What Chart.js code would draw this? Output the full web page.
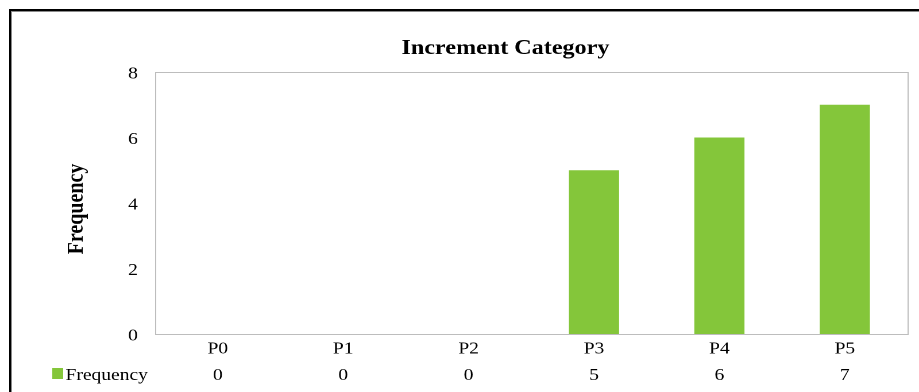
<!DOCTYPE html>
<html>
<head>
<meta charset="utf-8">
<script src="https://cdn.jsdelivr.net/npm/chart.js@4/dist/chart.umd.min.js"></script>
<style>
  html, body { margin: 0; padding: 0; background: #fff; overflow: hidden; }
  body { width: 919px; height: 392px; position: relative; }
  #frame {
    position: absolute; left: 9px; top: 9px; width: 1000px; height: 500px;
    border: 2px solid #000; box-shadow: inset 1px 1px 0 #8a8a8a;
    pointer-events: none; z-index: 2;
  }
  #stage {
    position: absolute; left: 0; top: 0; width: 800px; height: 392px;
    transform: scaleX(1.14875); transform-origin: 0 0;
  }
</style>
</head>
<body>
<div id="frame"></div>
<div id="stage"><canvas id="chart" width="800" height="392"></canvas></div>
<script>
// Frequency of each increment category
const categories = ['P0', 'P1', 'P2', 'P3', 'P4', 'P5'];
const frequency = [0, 0, 0, 5, 6, 7];
const seriesName = 'Frequency';
const chartTitle = 'Increment Category';
const yMin = 0, yMax = 8, yStep = 2;

const SERIF = "'Liberation Serif', 'Times New Roman', serif";
const BAR_GREEN = '#84C63A';

// Titles, plot frame and the data table under the category axis
const tablePlugin = {
  id: 'tablePlugin',
  beforeDatasetsDraw(chart) {
    const { ctx, chartArea: a } = chart;
    ctx.save();
    ctx.strokeStyle = '#bdbdbd';
    ctx.lineWidth = 1;
    ctx.strokeRect(Math.round(a.left) + 0.5, Math.round(a.top) + 0.5,
                   Math.round(a.right - a.left), Math.round(a.bottom - a.top));
    ctx.restore();
  },
  afterDraw(chart) {
    const { ctx, chartArea: a } = chart;
    const xs = chart.scales.x;
    ctx.save();
    ctx.fillStyle = '#000';
    ctx.font = 'bold 21px ' + SERIF;
    ctx.textAlign = 'center';
    ctx.textBaseline = 'alphabetic';
    ctx.fillText(chartTitle, 440, 54);

    // vertical axis title
    ctx.save();
    ctx.translate(67, (a.top + a.bottom) / 2 + 6);
    ctx.rotate(-Math.PI / 2);
    ctx.font = 'bold 20px ' + SERIF;
    ctx.textBaseline = 'middle';
    ctx.fillText(seriesName, 0, 0);
    ctx.restore();

    ctx.font = '17px ' + SERIF;
    const rowY = 380;
    frequency.forEach((v, i) => {
      ctx.fillText(String(v), xs.getPixelForValue(i), rowY);
    });
    ctx.fillStyle = BAR_GREEN;
    ctx.fillRect(45.5, 368, 9.5, 11);
    ctx.fillStyle = '#000';
    ctx.textAlign = 'left';
    ctx.fillText(seriesName, 57, rowY);
    ctx.restore();
  }
};

new Chart(document.getElementById('chart'), {
  type: 'bar',
  data: {
    labels: categories,
    datasets: [{
      label: seriesName,
      data: frequency,
      backgroundColor: BAR_GREEN,
      borderWidth: 0,
      barPercentage: 0.4,
      categoryPercentage: 1.0
    }]
  },
  options: {
    responsive: false,
    animation: false,
    devicePixelRatio: 2,
    layout: { padding: { left: 55, right: 10, top: 72, bottom: 0 } },
    plugins: {
      legend: { display: false },
      title: { display: false },
      tooltip: { enabled: false }
    },
    scales: {
      x: {
        grid: { display: false, drawTicks: false },
        border: { display: false },
        ticks: { color: '#000', font: { family: SERIF, size: 17 }, padding: 5, maxRotation: 0 },
        afterFit(scale) { scale.height = 58; }
      },
      y: {
        min: yMin, max: yMax,
        grid: { display: false, drawTicks: false },
        border: { display: false },
        ticks: { stepSize: yStep, color: '#000', font: { family: SERIF, size: 17 }, padding: 15, labelOffset: 2 },
        afterFit(scale) { scale.width = 80; }
      }
    }
  },
  plugins: [tablePlugin]
});
</script>
</body>
</html>
